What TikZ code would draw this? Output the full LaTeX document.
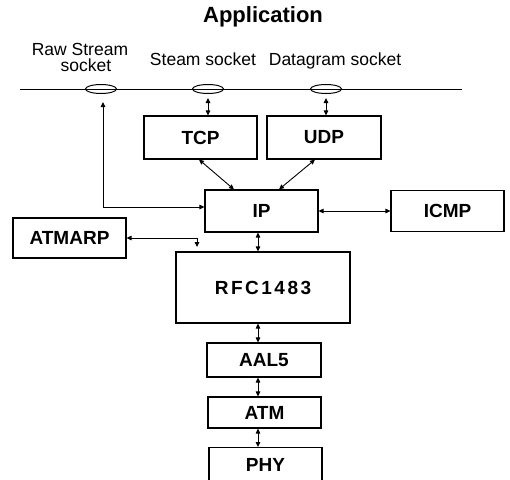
\documentclass[tikz,border=0pt]{standalone}
\usepackage{fontspec}
\setmainfont{Liberation Sans}
\usetikzlibrary{arrows.meta,shapes.geometric}

\tikzset{
  layer/.style={draw, line width=1.1pt, inner sep=0pt, font=\fontsize{19}{20}\selectfont\bfseries},
  sock/.style={draw, ellipse, line width=1pt, minimum width=31pt, minimum height=9pt, inner sep=0pt},
  lbl/.style={inner sep=0pt, font=\fontsize{17.5}{14}\selectfont},
  link/.style={line width=0.9pt, {Triangle[length=5pt,width=4.5pt]}-{Triangle[length=5pt,width=4.5pt]}},
}

\begin{document}
\begin{tikzpicture}[x=1pt, y=-1pt]
\useasboundingbox (0,0) rectangle (510,479);
\clip (0,0) rectangle (510,479);

% title
\node[inner sep=0pt, font=\fontsize{22}{24}\selectfont\bfseries, anchor=base] (app) at (263,22) {Application};

% socket labels
\node[lbl, anchor=base] (lraw) at (80,55) {Raw Stream};
\node[lbl, anchor=base] (lraw2) at (86,71) {socket};
\node[lbl, anchor=base] (lsteam) at (203,65) {Steam socket};
\node[lbl, anchor=base] (ldgram) at (335,65) {Datagram socket};

% socket interface line with the three sockets
\coordinate (bl) at (20,89);
\coordinate (br) at (462,89);
\draw[line width=0.9pt] (bl) -- (br);
\node[sock] (s1) at (101,89) {};
\node[sock] (s2) at (208,89) {};
\node[sock] (s3) at (326,89) {};

% protocol boxes
\node[layer, minimum width=113pt, minimum height=43pt] (tcp) at (200.5,137.5) {TCP};
\node[layer, minimum width=114pt, minimum height=43pt] (udp) at (324,137.5) {UDP};
\node[layer, minimum width=113pt, minimum height=42pt] (ip) at (261.5,211) {IP};
\node[layer, minimum width=113pt, minimum height=41pt] (icmp) at (447.5,211) {ICMP};
\node[layer, minimum width=113pt, minimum height=40pt] (atmarp) at (69.5,238) {ATMARP};
\node[layer, minimum width=174pt, minimum height=71pt] (rfc) at (263,287.5) {R\kern2.5pt F\kern2.5pt C\kern2.5pt 1\kern2.5pt 4\kern2.5pt 8\kern2.5pt 3};
\node[layer, minimum width=114pt, minimum height=34pt] (aal) at (264,360) {AAL5};
\node[layer, minimum width=113pt, minimum height=31pt] (atm) at (264.5,412.5) {ATM};
\node[layer, minimum width=113pt, minimum height=44pt, anchor=north] (phy) at (265.5,447) {\raisebox{9pt}{PHY}};

% connectors
\coordinate (axis) at (258,0);
\coordinate (arpend) at (197,247);

\draw[link, shorten <=4pt] (s2.south) -- (s2.south |- tcp.north);
\draw[link, shorten <=4pt] (s3.south) -- (s3.south |- udp.north);
\draw[link, shorten <=8pt] ([xshift=2pt]s1.south) |- ([yshift=4pt]ip.west);
\draw[link] ([xshift=-1.5pt]tcp.south) -- ([xshift=-27.5pt]ip.north);
\draw[link] ([xshift=-9pt]udp.south) -- ([xshift=17.5pt]ip.north);
\draw[link] (ip.east) -- (icmp.west);
\draw[link] (atmarp.east) -| (arpend);
\draw[link] (ip.south -| axis) -- (rfc.north -| axis);
\draw[link] (rfc.south -| axis) -- (aal.north -| axis);
\draw[link] (aal.south -| axis) -- (atm.north -| axis);
\draw[link] (atm.south -| axis) -- (phy.north -| axis);
\end{tikzpicture}
\end{document}
